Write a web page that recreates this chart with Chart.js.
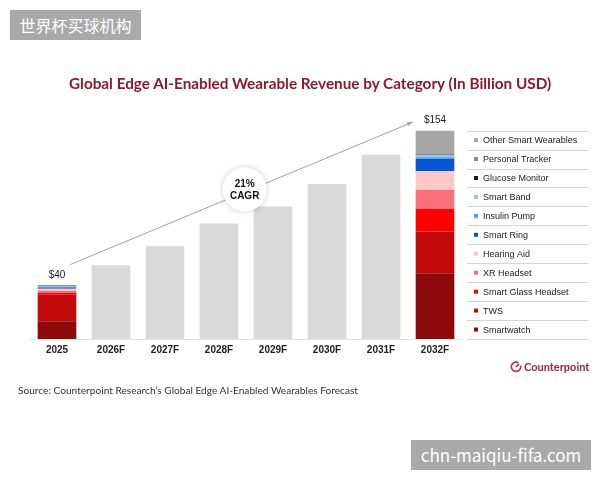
<!DOCTYPE html>
<html lang="en">
  <head>
    <meta charset="utf-8">
    <title>Global Edge AI-Enabled Wearable Revenue</title>
    <script src="https://cdn.jsdelivr.net/npm/chart.js"></script>
    <style>
      body { margin: 0; background: #fff; }
      .page { position: relative; width: 600px; height: 480px; overflow: hidden; }
      #chart { position: absolute; left: 0; top: 0; }
      .title { position: absolute; left: 69px; top: 74px; white-space: nowrap;
               font: bold 15.3px Lato; line-height: 18px; color: #8e1a2e; }
      .source { position: absolute; left: 18px; top: 384px; white-space: nowrap;
                font: 10.15px Lato; line-height: 12px; color: #333; }
      .logo { position: absolute; left: 510px; top: 360px; height: 14px; white-space: nowrap;
              font: bold 11px Lato; line-height: 14px; color: #a3263a; }
      .logo svg { vertical-align: top; margin-top: 1px; margin-right: 2px; }
      .wm { position: absolute; background: #a9a9a9; color: #fff; text-align: center;
            font-family: "Noto Sans CJK SC"; font-size: 16px; line-height: 30px; height: 30px; }
      .wm1 { left: 10px; top: 10px; width: 131px; }
      .wm2 { left: 411px; top: 440px; width: 180px; font-size: 17px; }
    </style>
  </head>
  <body>
    <div class="page">
      <canvas id="chart" width="600" height="480"></canvas>
      <div class="title">Global Edge AI-Enabled Wearable Revenue by Category (In Billion USD)</div>
      <div class="source">Source: Counterpoint Research’s Global Edge AI-Enabled Wearables Forecast</div>
      <div class="logo">
        <svg width="12" height="12" viewBox="0 0 12 12">
          <path d="M8.4 1.7 A4.7 4.7 0 1 0 10.6 4.6" fill="none" stroke="#c0303f" stroke-width="1.7"/>
          <line x1="6" y1="6" x2="9.1" y2="3" stroke="#c0303f" stroke-width="1.7"/>
        </svg>Counterpoint
      </div>
      <div class="wm wm1">世界杯买球机构</div>
      <div class="wm wm2">chn-maiqiu-fifa.com</div>
    </div>
    <script>
      const years = ["2025", "2026F", "2027F", "2028F", "2029F", "2030F", "2031F", "2032F"];
      const totals = [40, 54.5, 68.6, 85.3, 97.9, 114.6, 136.1, 154];

      // stack order, bottom to top
      const categories = [
        "Smartwatch", "TWS", "Smart Glass Headset", "XR Headset", "Hearing Aid",
        "Smart Ring", "Insulin Pump", "Smart Band", "Glucose Monitor",
        "Personal Tracker", "Other Smart Wearables"
      ];
      const rev2025 = [13.1, 19.6, 1.3, 1.6, 1.5, 1.0, 0.3, 0.8, 0.1, 0.2, 0.5];
      const rev2032 = [48.6, 30.8, 16.8, 14.2, 13.5, 9.4, 1.0, 1.8, 0.4, 0.8, 16.7];
      const colors = [
        "#8c0a0a", "#c20a0a", "#fe0000", "#f7707c", "#ffc8c8",
        "#0a55d5", "#3eb0e8", "#9cc3de", "#1a1a1a", "#8c8c8c", "#a6a6a6"
      ];
      const cagrText = ["21%", "CAGR"];

      let last = years.length - 1;
      let datasets = categories.map(function (name, k) {
        return {
          label: name,
          data: years.map((y, i) => (i === 0 ? rev2025[k] : i === last ? rev2032[k] : null)),
          backgroundColor: colors[k],
        };
      });
      datasets.push({
        label: "Total",
        data: totals.map((t, i) => (i === 0 || i === last ? null : t)),
        backgroundColor: "#d9d9d9",
      });

      let overlay = {
        id: "overlay",
        afterDatasetsDraw(chart) {
          let ctx = chart.ctx;
          let xs = chart.scales.x;
          let ys = chart.scales.y;
          ctx.save();

          // CAGR arrow
          let x1 = xs.getPixelForValue(0.246), y1 = ys.getPixelForValue(55);
          let x2 = xs.getPixelForValue(6.57), y2 = ys.getPixelForValue(160);
          ctx.strokeStyle = "#a0a0a0";
          ctx.fillStyle = "#a0a0a0";
          ctx.lineWidth = 1;
          ctx.beginPath();
          ctx.moveTo(x1, y1);
          ctx.lineTo(x2, y2);
          ctx.stroke();
          let a = Math.atan2(y2 - y1, x2 - x1);
          ctx.beginPath();
          ctx.moveTo(x2 + 2, y2 - 1);
          ctx.lineTo(x2 - 5 * Math.cos(a - 0.4), y2 - 5 * Math.sin(a - 0.4));
          ctx.lineTo(x2 - 5 * Math.cos(a + 0.4), y2 - 5 * Math.sin(a + 0.4));
          ctx.closePath();
          ctx.fill();

          // CAGR bubble
          let cx = xs.getPixelForValue(3.475), cy = ys.getPixelForValue(110.6);
          ctx.save();
          ctx.shadowColor = "rgba(0,0,0,0.2)";
          ctx.shadowBlur = 6;
          ctx.fillStyle = "#fff";
          ctx.beginPath();
          ctx.arc(cx, cy, 22, 0, Math.PI * 2);
          ctx.fill();
          ctx.restore();
          ctx.fillStyle = "#111";
          ctx.font = "bold 10px 'Liberation Sans', Arial";
          ctx.textAlign = "center";
          ctx.textBaseline = "middle";
          ctx.fillText(cagrText[0], cx, cy - 5.5);
          ctx.fillText(cagrText[1], cx, cy + 6.5);

          // value labels over first and last bar
          ctx.font = "10px 'Liberation Sans', Arial";
          ctx.fillStyle = "#1a1a1a";
          [0, last].forEach(function (i) {
            ctx.fillText("$" + Math.round(totals[i]), xs.getPixelForValue(i), ys.getPixelForValue(totals[i]) - 10);
          });

          // legend table, top row = top of the stack
          let top = ys.getPixelForValue(totals[last]);
          let bottom = ys.getPixelForValue(0);
          let rowH = (bottom - top) / categories.length;
          ctx.strokeStyle = "#d4d4d4";
          for (let r = 0; r <= categories.length; r++) {
            let ly = Math.round(top + r * rowH) + 0.5;
            ctx.beginPath();
            ctx.moveTo(467, ly);
            ctx.lineTo(588, ly);
            ctx.stroke();
          }
          ctx.textAlign = "left";
          ctx.font = "9px 'Liberation Sans', Arial";
          for (let r = 0; r < categories.length; r++) {
            let k = categories.length - 1 - r;
            let my = top + (r + 0.5) * rowH;
            ctx.fillStyle = colors[k];
            ctx.fillRect(474, my - 2, 4, 4);
            ctx.fillStyle = "#1a1a1a";
            ctx.fillText(categories[k], 483, my + 0.5);
          }
          ctx.restore();
        },
      };

      Chart.defaults.plugins.legend.display = false;
      Chart.defaults.plugins.tooltip.enabled = false;

      new Chart(document.getElementById("chart"), {
        type: "bar",
        data: { labels: years, datasets: datasets },
        options: {
          responsive: false,
          animation: false,
          devicePixelRatio: 1,
          layout: { padding: { top: 109, left: 30, right: 138, bottom: 119 } },
          datasets: { bar: { categoryPercentage: 1, barPercentage: 0.716, borderWidth: 0 } },
          scales: {
            x: {
              stacked: true,
              grid: { display: false, drawTicks: false },
              border: { display: true, color: "#e2e2e2", width: 1 },
              ticks: { color: "#222", padding: 5, font: { family: "'Liberation Sans', Arial", size: 10, weight: "bold" } },
              afterFit: function (scale) { scale.height = 22; },
            },
            y: { stacked: true, display: false, min: 0, max: 170 },
          },
        },
        plugins: [overlay],
      });
    </script>
  </body>
</html>
